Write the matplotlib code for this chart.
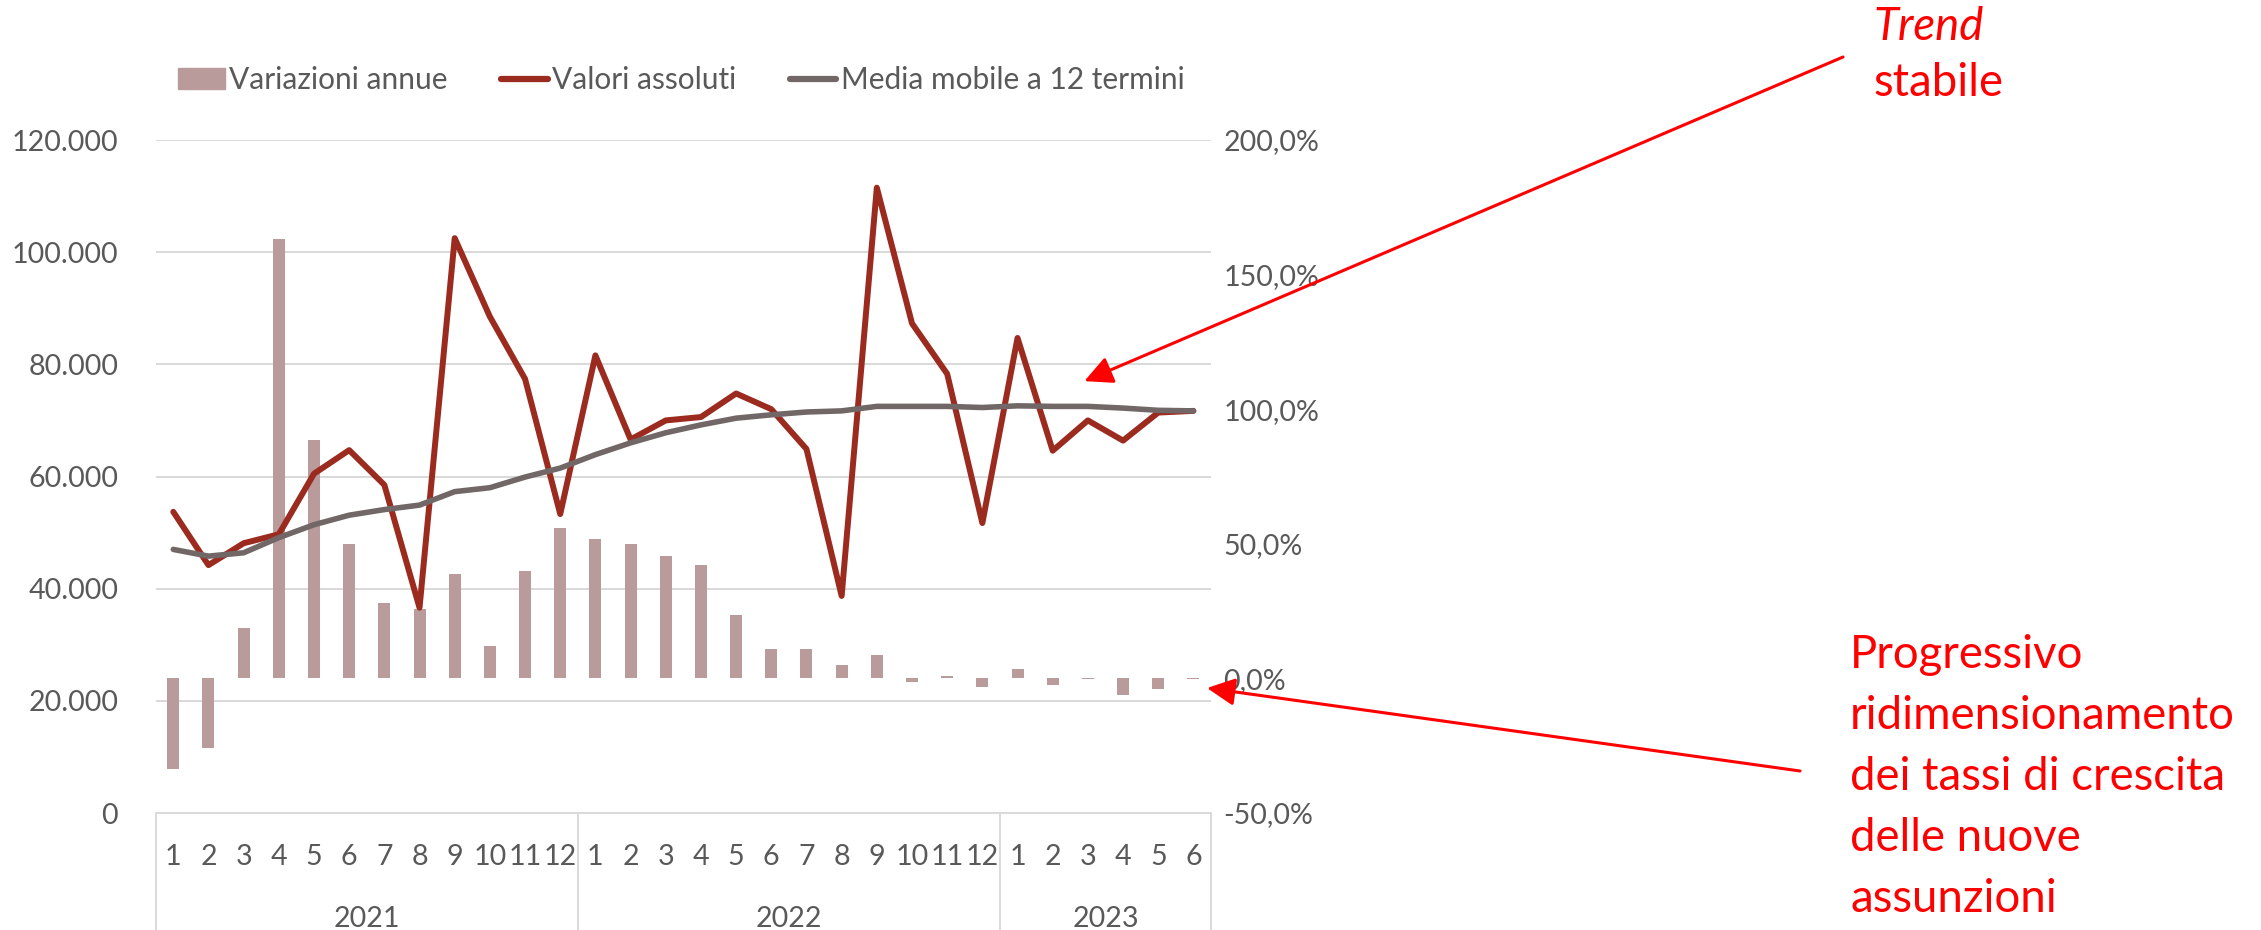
import matplotlib
matplotlib.use("Agg")
import matplotlib.pyplot as plt
from matplotlib.patches import Patch
from matplotlib.lines import Line2D
from matplotlib.ticker import FuncFormatter, MultipleLocator

plt.rcParams["font.family"] = ["Lato", "DejaVu Sans"]

# monthly data, Jan 2021 - Jun 2023
years = ["2021", "2022", "2023"]
months_per_year = [12, 12, 6]
month_labels = [str(m) for n in months_per_year for m in range(1, n + 1)]

valori_assoluti = [53700, 44200, 48100, 49700, 60500, 64700, 58500, 36600, 102500, 88500, 77400, 53300,
                   81600, 66600, 70000, 70600, 74800, 72000, 64900, 38700, 111500, 87300, 78300, 51700,
                   84700, 64600, 70000, 66400, 71400, 71700]
media_mobile = [47000, 45800, 46400, 49100, 51400, 53100, 54100, 54900, 57300, 58000, 59900, 61500,
                63900, 66000, 67800, 69200, 70400, 71000, 71500, 71700, 72500, 72500, 72500, 72300,
                72600, 72500, 72500, 72200, 71800, 71700]
variazioni_annue = [-33.7, -26.0, 18.6, 163.2, 88.4, 49.8, 27.9, 25.7, 38.9, 12.1, 40.0, 55.9,
                    51.8, 50.1, 45.6, 42.1, 23.4, 11.1, 10.8, 5.1, 8.8, -1.3, 1.0, -3.3,
                    3.5, -2.5, -0.3, -6.1, -4.1, -0.3]

BAR_C = "#B99B9B"
RED_C = "#9C2B1F"
GRAY_C = "#726767"
GRID_C = "#D9D9D9"
TEXT_C = "#595959"
ANN_C = "#FF0000"
TICK_FS = 20.6
LEG_FS = 21.5

W, H = 2261, 930
fig = plt.figure(figsize=(W / 100, H / 100), dpi=100)
rect = [155.7 / W, 1 - 813 / H, (1211 - 155.7) / W, (813 - 140) / H]

x = list(range(len(month_labels)))

# base axes: gridlines, left scale and category labels
ax = fig.add_axes(rect)
ax.set_xlim(-0.5, len(x) - 0.5)
ax.set_ylim(0, 120000)
ax.yaxis.set_major_locator(MultipleLocator(20000))
ax.yaxis.set_major_formatter(FuncFormatter(lambda v, p: "{:,.0f}".format(v).replace(",", ".")))
ax.yaxis.grid(True, color=GRID_C, lw=1.4)
ax.set_axisbelow(True)
ax.set_xticks(x)
ax.set_xticklabels(month_labels)
ax.tick_params(axis="y", length=0, pad=27, labelsize=TICK_FS, labelcolor=TEXT_C)
ax.tick_params(axis="x", length=0, pad=22, labelsize=TICK_FS, labelcolor=TEXT_C)
for s in ["top", "left", "right"]:
    ax.spines[s].set_visible(False)
ax.spines["bottom"].set_color(GRID_C)
ax.spines["bottom"].set_linewidth(1.4)

# year level of the category axis
start = 0
bounds = [-0.5]
for yr, n in zip(years, months_per_year):
    ax.text(start + (n - 1) / 2, -0.157, yr, transform=ax.get_xaxis_transform(),
            ha="center", va="center", fontsize=TICK_FS, color=TEXT_C)
    start += n
    bounds.append(start - 0.5)
for b in bounds:
    ax.plot([b, b], [0, -0.2], transform=ax.get_xaxis_transform(), color=GRID_C,
            lw=1.4, clip_on=False)

# bars on the secondary (percentage) scale
ax2 = ax.twinx()
ax2.set_ylim(-50, 200)
ax2.yaxis.set_major_locator(MultipleLocator(50))
ax2.yaxis.set_major_formatter(FuncFormatter(lambda v, p: "{:.1f}%".format(v).replace(".", ",")))
ax2.bar(x, variazioni_annue, width=0.34, color=BAR_C)
ax2.tick_params(axis="y", length=0, pad=9, labelsize=TICK_FS, labelcolor=TEXT_C)
for s in ax2.spines.values():
    s.set_visible(False)

# lines on top, same scale as the left axis
ax3 = fig.add_axes(rect, sharex=ax, sharey=ax)
ax3.axis("off")
ax3.plot(x, valori_assoluti, color=RED_C, lw=4.3, solid_joinstyle="round", solid_capstyle="round")
ax3.plot(x, media_mobile, color=GRAY_C, lw=4.0, solid_joinstyle="round", solid_capstyle="round")

handles = [Patch(color=BAR_C), Line2D([], [], color=RED_C, lw=4.5, solid_capstyle="round"),
           Line2D([], [], color=GRAY_C, lw=4.5, solid_capstyle="round")]
labels = ["Variazioni annue", "Valori assoluti", "Media mobile a 12 termini"]
fig.legend(handles, labels, loc="center", bbox_to_anchor=(681.5 / W, 1 - 80 / H), ncol=3,
           frameon=False, fontsize=LEG_FS, labelcolor=TEXT_C, handlelength=1.55,
           handletextpad=0.15, columnspacing=1.8)

# annotations
ANN_FS = 32.8
fig.text(1873 / W, 1 - 27 / H, "Trend", style="italic", color=ANN_C, fontsize=ANN_FS,
         ha="left", va="center")
fig.text(1873 / W, 1 - 83 / H, "stabile", color=ANN_C, fontsize=ANN_FS, ha="left", va="center")
fig.text(1850 / W, 1 - 777 / H,
         "Progressivo\nridimensionamento\ndei tassi di crescita\ndelle nuove\nassunzioni",
         color=ANN_C, fontsize=ANN_FS, ha="left", va="center", linespacing=1.56)

arrow = dict(arrowstyle="-|>,head_length=0.85,head_width=0.42", color=ANN_C, lw=2.2,
             mutation_scale=20, shrinkA=0, shrinkB=0)
ax3.annotate("", xy=(25.9, 77000), xycoords="data", xytext=(1843 / W, 1 - 57 / H),
             textcoords="figure fraction", arrowprops=arrow, annotation_clip=False)
ax3.annotate("", xy=(1207 / W, 1 - 688 / H), xycoords="figure fraction",
             xytext=(1800 / W, 1 - 771 / H), textcoords="figure fraction",
             arrowprops=arrow, annotation_clip=False)

fig.savefig("out.png", dpi=100)
